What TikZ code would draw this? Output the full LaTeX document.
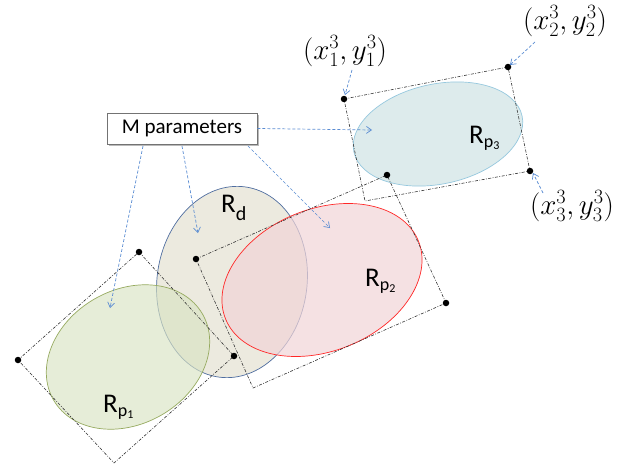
\RequirePackage{fix-cm}
\documentclass[tikz,border=0pt]{standalone}
\usepackage{fontspec}
\setmainfont{Carlito}
\usetikzlibrary{shapes.geometric,arrows.meta,shadows}
\definecolor{rdfill}{RGB}{236,234,223}
\definecolor{rddraw}{RGB}{80,110,160}
\definecolor{ponefill}{RGB}{217,227,195}
\definecolor{ponedraw}{RGB}{150,170,95}
\definecolor{ptwofill}{RGB}{241,212,215}
\definecolor{ptwodraw}{RGB}{255,40,40}
\definecolor{pthreefill}{RGB}{221,235,236}
\definecolor{pthreedraw}{RGB}{150,200,222}
\definecolor{arrblue}{RGB}{90,140,210}
\newcommand{\rsub}[2]{R\raisebox{-4.5pt}{\fontsize{18}{18}\selectfont #1\raisebox{-2pt}{\fontsize{12}{12}\selectfont #2}}}
\tikzset{
  region/.style={ellipse, inner sep=0pt, line width=0.7pt},
  boxline/.style={draw=black!80, line width=0.6pt, dash pattern=on 3pt off 1.5pt on 0.8pt off 1.5pt},
  cornerdot/.style={circle, fill=black, inner sep=0pt, minimum size=6.5pt},
  parrow/.style={draw=arrblue, line width=0.7pt, dash pattern=on 3pt off 2pt, -{Straight Barb[length=5pt,width=7pt]}},
  rlabel/.style={font=\fontsize{27}{30}\selectfont, inner sep=0pt, anchor=base west},
  mlabel/.style={font=\fontsize{29}{34}\selectfont, inner sep=0pt},
}
\begin{document}
\begin{tikzpicture}[x=1pt,y=-1pt]
\useasboundingbox (0,0) rectangle (630,471);
% regions
\node[region, fill=rdfill, draw=rddraw, minimum width=150, minimum height=192, rotate=-8] (rd) at (232,282) {};
\node[region, fill=pthreefill, draw=pthreedraw, minimum width=172, minimum height=100, rotate=12] (p3) at (438,134) {};
\node[region, fill=ptwofill, fill opacity=0.7, draw=ptwodraw, minimum width=208, minimum height=142, rotate=22] (p2) at (322,280) {};
\node[region, fill=ponefill, fill opacity=0.65, draw=ponedraw, minimum width=172, minimum height=134, rotate=30] (p1) at (128,357) {};
% labels of regions
\node[rlabel] (ld) at (221,212.5) {R\raisebox{-8pt}{\fontsize{20}{20}\selectfont d}};
\node[rlabel] (l1) at (103,412) {\rsub{p}{1}};
\node[rlabel] (l2) at (365,286) {\rsub{p}{2}};
\node[rlabel] (l3) at (469,143) {\rsub{p}{3}};
% box corners
\coordinate (a1) at (139,252); \coordinate (a2) at (234,356); \coordinate (a3) at (114,463); \coordinate (a4) at (18,360);
\coordinate (b1) at (196,259); \coordinate (b2) at (387,175); \coordinate (b3) at (446,303); \coordinate (b4) at (253,388);
\coordinate (c1) at (344,99); \coordinate (c2) at (508,67); \coordinate (c3) at (530,171); \coordinate (c4) at (365,201);
\draw[boxline] (a1) -- (a2) -- (a3) -- (a4) -- cycle;
\draw[boxline] (b1) -- (b2) -- (b3) -- (b4) -- cycle;
\draw[boxline] (c1) -- (c2) -- (c3) -- (c4) -- cycle;
\foreach \p in {a1,a2,a4,b1,b2,b3,c1,c2,c3} \node[cornerdot] (d\p) at (\p) {};
% coordinate labels
\node[mlabel] (x1) at (345,51) {$(x_1^3,y_1^3)$};
\node[mlabel] (x2) at (565,21) {$(x_2^3,y_2^3)$};
\node[mlabel] (x3) at (572,206) {$(x_3^3,y_3^3)$};
\coordinate (x1s) at (352,70); \coordinate (x1e) at (345,95);
\coordinate (x2s) at (535,42); \coordinate (x2e) at (510,65);
\coordinate (x3s) at (543,193); \coordinate (x3e) at (533,173);
\draw[parrow] (x1s) -- (x1e);
\draw[parrow] (x2s) -- (x2e);
\draw[parrow] (x3s) -- (x3e);
% M parameters
\node[draw=black!55, fill=white, line width=0.6pt, minimum width=150, minimum height=31, inner sep=0pt,
      font=\fontsize{21}{24}\selectfont,
      drop shadow={shadow xshift=2pt, shadow yshift=-2pt, fill=black!45, opacity=0.6}] (m) at (182,128.5) {M parameters};
\coordinate (m1) at (143,146); \coordinate (e1) at (110,308);
\coordinate (m2) at (182,146); \coordinate (e2) at (198,233);
\coordinate (m3) at (248,146); \coordinate (e3) at (330,228);
\coordinate (e4) at (372,130);
\draw[parrow] (m1) -- (e1);
\draw[parrow] (m2) -- (e2);
\draw[parrow] (m3) -- (e3);
\draw[parrow] (m.east) -- (e4);
\end{tikzpicture}
\end{document}
